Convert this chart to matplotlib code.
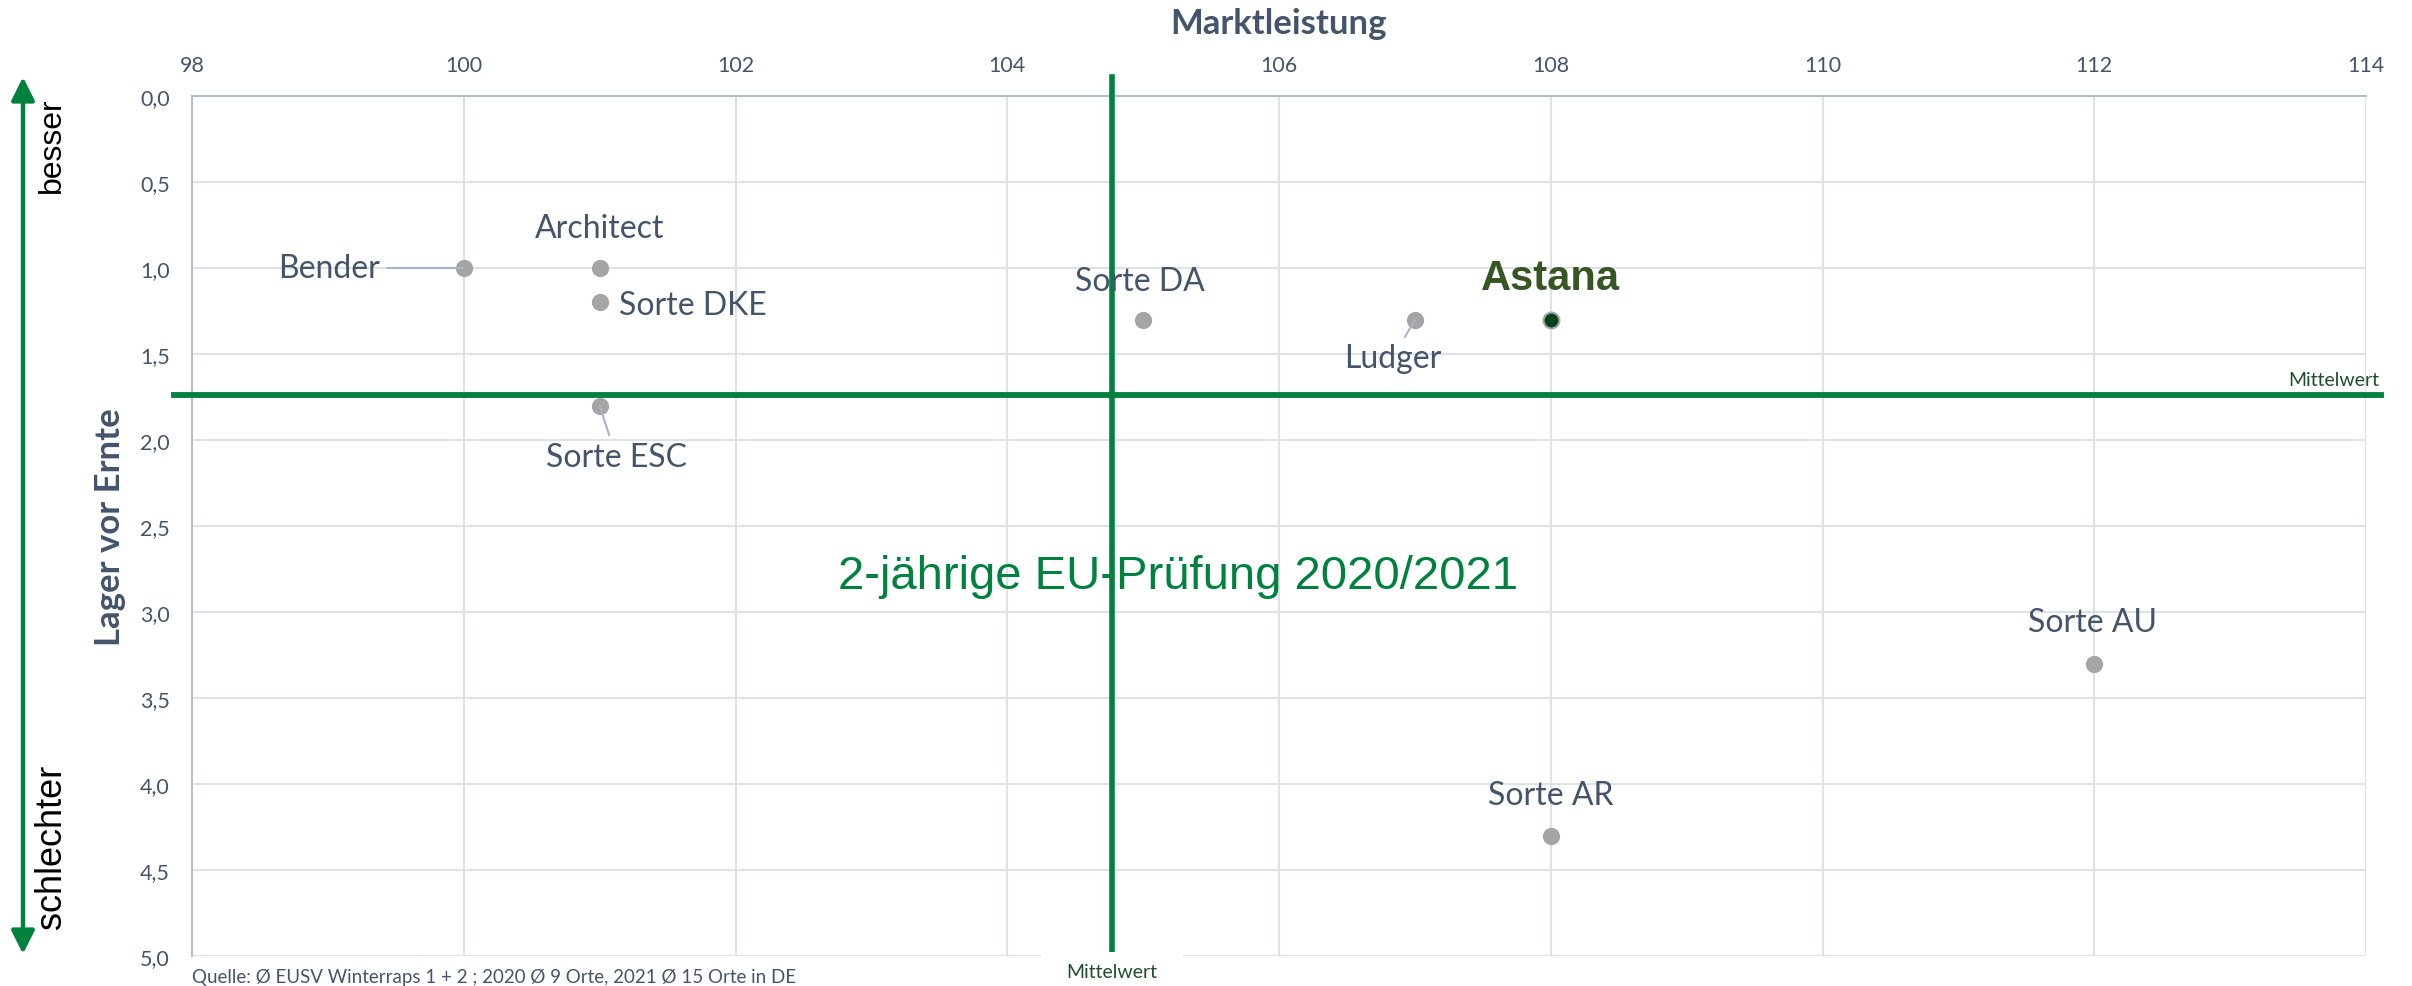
import matplotlib.pyplot as plt
from matplotlib.ticker import FuncFormatter, MultipleLocator
from matplotlib.patches import Rectangle

# Sorten: Marktleistung (relativ) und Lager vor Ernte (Note)
sorten = ['Bender', 'Architect', 'Sorte DKE', 'Sorte ESC', 'Sorte DA',
          'Ludger', 'Astana', 'Sorte AU', 'Sorte AR']
marktleistung = [100, 101, 101, 101, 105, 107, 108, 112, 108]
lager = [1.0, 1.0, 1.2, 1.8, 1.3, 1.3, 1.3, 3.3, 4.3]

mittel_x = 104.77
mittel_y = 1.74

# label placement (offset in points, alignment, leader line)
label_pos = {
    'Bender':    ((-60, 0), 'right', True),
    'Architect': ((0, 29), 'center', False),
    'Sorte DKE': ((14, -2), 'left', False),
    'Sorte ESC': ((12, -37), 'center', True),
    'Sorte DA':  ((-2, 28), 'center', False),
    'Ludger':    ((-16, -28), 'center', True),
    'Astana':    ((0, 30), 'center', False),
    'Sorte AU':  ((-1, 30), 'center', False),
    'Sorte AR':  ((0, 29), 'center', False),
}

GREEN = '#00813e'
TXT = '#44546a'
GRID = '#dde1e8'
FONT = ['Lato', 'DejaVu Sans']
ARIAL = ['Liberation Sans', 'DejaVu Sans']

plt.rcParams['font.family'] = FONT

fig = plt.figure(figsize=(24.12, 9.87), dpi=100)
ax = fig.add_axes([192/2412, 1-957/987, 2174/2412, 860/987])

ax.set_xlim(98, 114)
ax.set_ylim(5, 0)
ax.xaxis.tick_top()
ax.xaxis.set_major_locator(MultipleLocator(2))
ax.yaxis.set_major_locator(MultipleLocator(0.5))
ax.yaxis.set_major_formatter(FuncFormatter(lambda v, p: f'{v:.1f}'.replace('.', ',')))
ax.tick_params(length=0, labelsize=15.5, labelcolor=TXT)
ax.tick_params(axis='x', pad=15)
ax.tick_params(axis='y', pad=16)
ax.grid(True, color=GRID, lw=1.5)
ax.set_axisbelow(True)
for s in ['right', 'bottom']:
    ax.spines[s].set_visible(False)
for s in ['left', 'top']:
    ax.spines[s].set_color('#b4bfcc')
    ax.spines[s].set_linewidth(1.5)

# Mittelwert lines
ax.plot([97.87, 114.11], [mittel_y, mittel_y], color=GREEN, lw=4.2, clip_on=False, zorder=3)
ax.plot([mittel_x, mittel_x], [-0.11, 5.0], color=GREEN, lw=4.0, clip_on=False, zorder=3)
ax.add_patch(Rectangle((mittel_x - 0.52, 4.975), 1.04, 0.3, facecolor='white',
                       edgecolor='none', clip_on=False, zorder=4))
ax.text(mittel_x, 5.09, 'Mittelwert', ha='center', va='center', fontsize=14,
        color='#1f4e2c', zorder=5, clip_on=False)
ax.text(114.1, mittel_y - 0.09, 'Mittelwert', ha='right', va='center', fontsize=14,
        color='#1f4e2c', clip_on=False)

# points
for name, x, y in zip(sorten, marktleistung, lager):
    if name == 'Astana':
        ax.scatter(x, y, s=130, color='#00441b', edgecolor='#a5a5a5', lw=1.5, zorder=6)
    else:
        ax.scatter(x, y, s=130, color='#a5a5a5', zorder=6)
    off, ha, leader = label_pos[name]
    if name == 'Astana':
        kw = dict(fontsize=30, fontweight='bold', color='#375623', family=ARIAL)
    else:
        kw = dict(fontsize=23, color=TXT)
    arrow = dict(arrowstyle='-', color='#a6b4c8', lw=1.5, shrinkA=3, shrinkB=0) if leader else None
    ax.annotate(name, (x, y), xytext=off, textcoords='offset points', ha=ha, va='center',
                arrowprops=arrow, zorder=7, **kw)

# centre title
ax.text(105.26, 2.79, '2-jährige EU-Prüfung 2020/2021', ha='center', va='center',
        fontsize=34, color=GREEN, family=ARIAL, zorder=5)

# axis titles
fig.text(1279/2412, 1-24/987, 'Marktleistung', ha='center', va='center', fontsize=25,
         fontweight='bold', color=TXT)
fig.text(110/2412, 1-527/987, 'Lager vor Ernte', ha='center', va='center', fontsize=25,
         fontweight='bold', color=TXT, rotation=90)

# besser / schlechter arrow
fig.text(52/2412, 1-145/987, 'besser', ha='center', va='center', fontsize=23,
         rotation=90, family=ARIAL)
fig.text(52/2412, 1-847/987, 'schlechter', ha='center', va='center', fontsize=26,
         rotation=90, family=ARIAL)
ax.annotate('', xy=(23/2412, 1-78/987), xytext=(23/2412, 1-955/987),
            xycoords='figure fraction', textcoords='figure fraction',
            arrowprops=dict(arrowstyle='<|-|>,head_length=1.4,head_width=0.7',
                            color=GREEN, lw=3.2, shrinkA=0, shrinkB=0, mutation_scale=10))

fig.text(192/2412, 1-978/987, 'Quelle: Ø EUSV Winterraps 1 + 2 ; 2020 Ø 9 Orte, 2021 Ø 15 Orte in DE',
         ha='left', va='center', fontsize=13.5, color=TXT)

fig.savefig('out.png', dpi=100, facecolor='white')
